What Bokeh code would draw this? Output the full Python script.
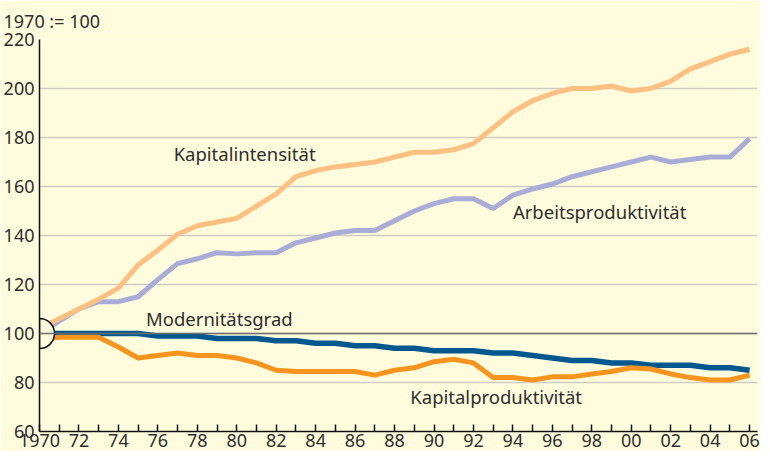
from math import pi
from bokeh.plotting import figure
from bokeh.models import Range1d, FixedTicker, Label, Span
from bokeh.embed import file_html
from bokeh.resources import INLINE

years = list(range(1970, 2007))

kapitalintensitaet = [102, 106, 110, 114, 118.5, 128, 134, 140.5, 144, 145.5, 147,
                      152, 157, 164, 166.5, 168, 169, 170, 172, 174, 174, 175, 177.5,
                      184, 190.5, 195, 198, 200, 200, 201, 199, 200, 203, 208, 211,
                      214, 216]
arbeitsproduktivitaet = [100, 105, 110, 113, 113, 115, 122, 128.5, 130.5, 133, 132.5,
                         133, 133, 137, 139, 141, 142, 142, 146, 150, 153, 155, 155,
                         151, 156.5, 159, 161, 164, 166, 168, 170, 172, 170, 171, 172,
                         172, 179.5]
modernitaetsgrad = [100, 100, 100, 100, 100, 100, 99, 99, 99, 98, 98, 98, 97, 97, 96,
                    96, 95, 95, 94, 94, 93, 93, 93, 92, 92, 91, 90, 89, 89, 88, 88,
                    87, 87, 87, 86, 86, 85]
kapitalproduktivitaet = [98, 98.5, 98.5, 98.5, 94.5, 90, 91, 92, 91, 91, 90, 88, 85,
                         84.5, 84.5, 84.5, 84.5, 83, 85, 86, 88.5, 89.5, 88, 82, 82,
                         81, 82.3, 82.3, 83.5, 84.5, 86, 85.5, 83.5, 82, 81, 81, 83]

y_ticks = [60, 80, 100, 120, 140, 160, 180, 200, 220]
x_labels = {y: ("1970" if y == 1970 else f"{y % 100:02d}") if y % 2 == 0 else "" for y in years}

BG = "#FEFCDC"
TXT = "#2E2E2E"
FONT = "Noto Sans"

p = figure(width=760, height=451, output_backend="svg", toolbar_location=None,
           x_range=Range1d(1970, 2006.4), y_range=Range1d(60, 220),
           min_border_left=37, min_border_right=3, min_border_top=2, min_border_bottom=20)
p.background_fill_color = BG
p.border_fill_color = BG
p.outline_line_color = None

p.title.text = "1970 := 100"
p.title.text_font = FONT
p.title.text_font_size = "18px"
p.title.text_font_style = "normal"
p.title.text_color = TXT
p.title.align = "left"
p.title.offset = -36
p.title.standoff = 13

p.xgrid.visible = False
p.ygrid.ticker = FixedTicker(ticks=y_ticks)
p.ygrid.grid_line_color = "#CDCDC6"
p.ygrid.grid_line_width = 1.5

# axes
p.xaxis.ticker = FixedTicker(ticks=years)
p.xaxis.major_label_overrides = x_labels
p.xaxis.major_tick_in = 7
p.xaxis.major_tick_out = 0
p.xaxis.minor_tick_line_color = None
p.xaxis.axis_line_color = "#111111"
p.xaxis.axis_line_width = 1.5
p.xaxis.major_tick_line_color = "#111111"
p.xaxis.major_tick_line_width = 1.5
p.xaxis.major_label_text_font = FONT
p.xaxis.major_label_text_font_size = "18px"
p.xaxis.major_label_text_color = TXT
p.xaxis.major_label_standoff = 2

p.yaxis.ticker = FixedTicker(ticks=y_ticks)
p.yaxis.major_tick_in = 0
p.yaxis.major_tick_out = 0
p.yaxis.minor_tick_line_color = None
p.yaxis.axis_line_color = "#111111"
p.yaxis.axis_line_width = 1.5
p.yaxis.major_label_text_font = FONT
p.yaxis.major_label_text_font_size = "18px"
p.yaxis.major_label_text_color = TXT
p.yaxis.major_label_standoff = 5

p.add_layout(Span(location=100, dimension="width", line_color="#6E6E6A", line_width=1.3))

p.line(years, arbeitsproduktivitaet, line_color="#A8ACD6", line_width=5)
p.line(years, kapitalintensitaet, line_color="#FFC081", line_width=5)
p.line(years, modernitaetsgrad, line_color="#00588F", line_width=5.5)
p.line(years, kapitalproduktivitaet, line_color="#F7941E", line_width=5)

p.wedge(x=[1970], y=[100], radius=15, radius_units="screen",
        start_angle=-pi / 2, end_angle=pi / 2,
        fill_color=BG, line_color="#111111", line_width=1.5)

labels = [
    ("Kapitalintensität", 1976.8, 173.6),
    ("Arbeitsproduktivität", 1994.0, 150),
    ("Modernitätsgrad", 1975.4, 106),
    ("Kapitalproduktivität", 1988.8, 74.4),
]
for txt, lx, ly in labels:
    p.add_layout(Label(x=lx, y=ly, text=txt, text_font=FONT, text_font_size="18.5px",
                       text_color=TXT, text_baseline="middle", text_align="left"))

open("out.html", "w").write(file_html(p, INLINE))
